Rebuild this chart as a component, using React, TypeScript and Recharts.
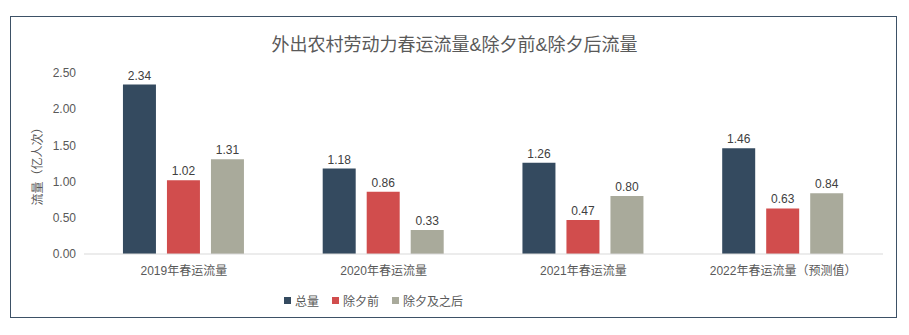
import { Bar, BarChart, CartesianGrid, LabelList, Legend, XAxis, YAxis } from "recharts";

const categories = ["2019年春运流量", "2020年春运流量", "2021年春运流量", "2022年春运流量（预测值）"];
const totalFlow = [2.34, 1.18, 1.26, 1.46];
const beforeEve = [1.02, 0.86, 0.47, 0.63];
const afterEve = [1.31, 0.33, 0.8, 0.84];
const yTicks = [0, 0.5, 1, 1.5, 2, 2.5];

const SERIES = [
  { key: "total", name: "总量", color: "#344a5f" },
  { key: "before", name: "除夕前", color: "#d14d4d" },
  { key: "after", name: "除夕及之后", color: "#a9aa9b" },
];

const FONT = '"Liberation Sans", "Noto Sans CJK SC", sans-serif';

const data = categories.map((name, i) => ({
  name,
  total: totalFlow[i],
  before: beforeEve[i],
  after: afterEve[i],
}));

function ChartLegend() {
  return (
    <div style={{ display: "flex", gap: 13, fontSize: 12, color: "#595959", fontFamily: FONT }}>
      {SERIES.map((s) => (
        <span key={s.key} style={{ display: "flex", alignItems: "center", gap: 4 }}>
          <span style={{ width: 7, height: 7, background: s.color, display: "inline-block" }} />
          {s.name}
        </span>
      ))}
    </div>
  );
}

export default function App() {
  return (
    <div style={{ position: "absolute", left: 0, top: 0, width: 909, height: 335, background: "#fff" }}>
      <div
        style={{
          position: "absolute",
          left: 10,
          top: 16,
          width: 885,
          height: 300,
          border: "1.5px solid #3d5166",
        }}
      />
      <div
        style={{
          position: "absolute",
          left: 0,
          top: 30,
          width: 909,
          textAlign: "center",
          fontSize: 18,
          color: "#595959",
          fontFamily: FONT,
        }}
      >
        外出农村劳动力春运流量&除夕前&除夕后流量
      </div>
      <BarChart
        width={909}
        height={335}
        data={data}
        margin={{ top: 73, right: 26, left: 24, bottom: 34 }}
        barCategoryGap="19.5%"
        barGap={11}
        style={{ fontFamily: FONT }}
      >
        <CartesianGrid vertical={false} horizontal={false} />
        <XAxis
          dataKey="name"
          tickLine={false}
          axisLine={{ stroke: "#d9d9d9" }}
          tick={{ fill: "#595959", fontSize: 12 }}
          dy={4}
        />
        <YAxis
          domain={[0, 2.5]}
          ticks={yTicks}
          tickFormatter={(v: number) => v.toFixed(2)}
          axisLine={false}
          tickLine={false}
          tick={{ fill: "#595959", fontSize: 12 }}
          width={60}
          label={{
            value: "流量（亿人次）",
            angle: -90,
            position: "insideLeft",
            offset: 14,
            fill: "#595959",
            fontSize: 12,
            style: { textAnchor: "middle" },
          }}
        />
        <Legend
          content={<ChartLegend />}
          wrapperStyle={{ left: 284, top: 292, width: "auto" }}
        />
        {SERIES.map((s) => (
          <Bar key={s.key} dataKey={s.key} name={s.name} fill={s.color} isAnimationActive={false}>
            <LabelList
              dataKey={s.key}
              position="top"
              formatter={(v: number) => v.toFixed(2)}
              style={{ fill: "#404040", fontSize: 12 }}
            />
          </Bar>
        ))}
      </BarChart>
    </div>
  );
}
